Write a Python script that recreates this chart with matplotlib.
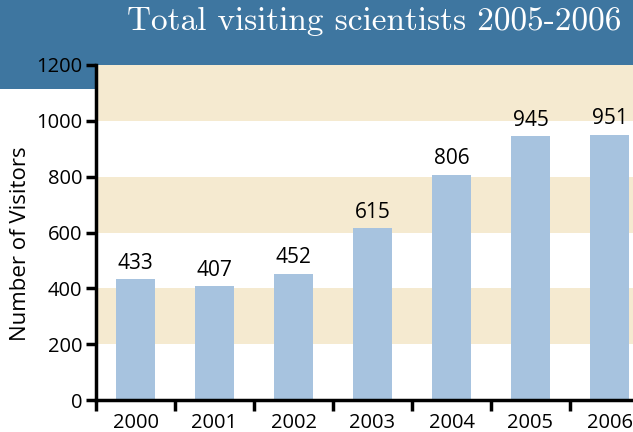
import matplotlib
matplotlib.use("Agg")
import matplotlib.pyplot as plt
from matplotlib.patches import Rectangle

years = ["2000", "2001", "2002", "2003", "2004", "2005", "2006"]
visitors = [433, 407, 452, 615, 806, 945, 951]
y_ticks = [0, 200, 400, 600, 800, 1000, 1200]
shaded_bands = [(200, 400), (600, 800), (1000, 1200)]
title = "Total visiting scientists 2005-2006"

HEADER = "#3E76A0"
BAND = "#F5EAD0"
BAR = "#A7C3DF"

plt.rcParams["font.family"] = ["Open Sans", "DejaVu Sans"]

W, H = 633, 432
fig = plt.figure(figsize=(W / 100, H / 100), dpi=100)

# header strip across the top, plus the block left of the axis
fig.patches.append(Rectangle((0, 1 - 65 / H), 1, 65 / H, transform=fig.transFigure,
                             facecolor=HEADER, edgecolor="none", zorder=-5))
fig.patches.append(Rectangle((0, 1 - 89 / H), 96 / W, 89 / H, transform=fig.transFigure,
                             facecolor=HEADER, edgecolor="none", zorder=-5))
fig.text(621 / W, 1 - 30 / H, title, color="white", ha="right", va="baseline",
         fontsize=24, family=["cmr10", "DejaVu Serif"])

ax = fig.add_axes([96 / W, 32 / H, 553 / W, 335 / H])
ax.set_zorder(1)
ax.set_facecolor("none")
ax.set_xlim(-0.5, len(years) - 0.5)
ax.set_ylim(0, 1200)

for lo, hi in shaded_bands:
    ax.axhspan(lo, hi, color=BAND, lw=0, zorder=0)

x = range(len(years))
ax.bar(x, visitors, width=0.5, color=BAR, zorder=2)
for xi, v in zip(x, visitors):
    ax.annotate(str(v), (xi, v), xytext=(0, 4), textcoords="offset points",
                ha="center", va="bottom", fontsize=15, color="black")

ax.set_yticks(y_ticks)
ax.set_yticklabels([str(t) for t in y_ticks], fontsize=14.5)
ax.set_xticks(list(x))
ax.set_xticklabels(years, fontsize=14.5)
ax.tick_params(axis="x", which="major", length=0, pad=9)
ax.set_xticks([i + 0.5 for i in range(-1, len(years))], minor=True)
ax.tick_params(axis="x", which="minor", length=8, width=2.5, direction="out")
ax.tick_params(axis="y", length=7, width=2.5, direction="out", pad=3)

ax.set_ylabel("Number of Visitors", fontsize=16, va="center")
ax.yaxis.set_label_coords(-0.137, 0.466)

for s in ["top", "right"]:
    ax.spines[s].set_visible(False)
ax.spines["left"].set_linewidth(2.5)
ax.spines["bottom"].set_linewidth(2.5)

fig.savefig("out.png", dpi=100)
